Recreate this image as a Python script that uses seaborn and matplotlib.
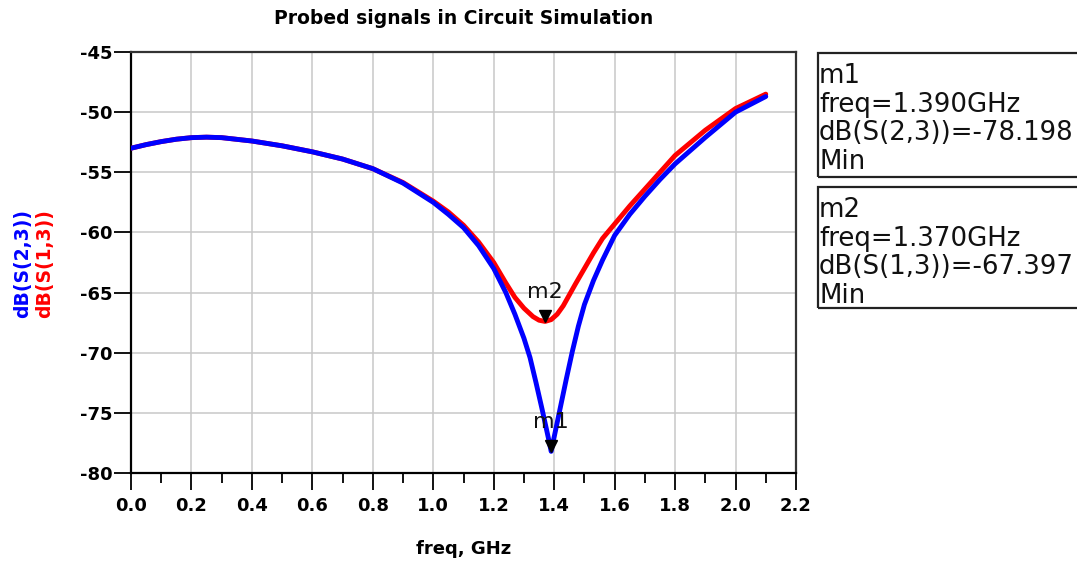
import numpy as np
import pandas as pd
import matplotlib
matplotlib.use("Agg")
import matplotlib.pyplot as plt
from matplotlib.patches import Rectangle
from matplotlib.ticker import MultipleLocator
from matplotlib.transforms import offset_copy
import seaborn as sns

# data
s23_freq = [0.0, 0.05, 0.1, 0.15, 0.2, 0.25, 0.3, 0.4, 0.5, 0.6, 0.7, 0.8, 0.9, 1.0, 1.05,
            1.1, 1.15, 1.2, 1.24, 1.27, 1.3, 1.32, 1.34, 1.36, 1.38, 1.39, 1.40, 1.42,
            1.44, 1.46, 1.48, 1.5, 1.53, 1.56, 1.6, 1.65, 1.7, 1.75, 1.8, 1.9, 2.0, 2.1]
s23_db = [-53.0, -52.7, -52.45, -52.25, -52.12, -52.08, -52.12, -52.4, -52.8, -53.3,
          -53.9, -54.7, -55.9, -57.5, -58.5, -59.6, -61.1, -63.0, -65.0, -66.8, -68.8,
          -70.4, -72.5, -74.7, -77.0, -78.2, -77.0, -74.6, -72.2, -69.9, -67.8, -66.0,
          -64.0, -62.3, -60.25, -58.5, -57.0, -55.6, -54.3, -52.1, -50.0, -48.7]
s13_freq = [0.0, 0.05, 0.1, 0.15, 0.2, 0.25, 0.3, 0.4, 0.5, 0.6, 0.7, 0.8, 0.9, 1.0, 1.05,
            1.1, 1.15, 1.2, 1.24, 1.27, 1.3, 1.33, 1.35, 1.37, 1.39, 1.41, 1.43, 1.45,
            1.47, 1.5, 1.53, 1.56, 1.6, 1.65, 1.7, 1.75, 1.8, 1.9, 2.0, 2.1]
s13_db = [-53.0, -52.7, -52.45, -52.25, -52.12, -52.08, -52.12, -52.4, -52.8, -53.3,
          -53.9, -54.7, -55.85, -57.4, -58.3, -59.4, -60.8, -62.5, -64.2, -65.4, -66.3,
          -67.0, -67.3, -67.4, -67.25, -66.8, -66.1, -65.2, -64.3, -63.0, -61.7, -60.5,
          -59.3, -57.8, -56.4, -55.0, -53.6, -51.5, -49.7, -48.5]

trace_names = ["dB(S(2,3))", "dB(S(1,3))"]
trace_colors = ["#0000ff", "#ff0000"]

marker_names = ["m1", "m2"]
marker_freq = [1.390, 1.370]
marker_db = [-78.198, -67.397]
marker_trace = ["dB(S(2,3))", "dB(S(1,3))"]

df = pd.concat([
    pd.DataFrame({"freq": s23_freq, "dB": s23_db, "trace": trace_names[0]}),
    pd.DataFrame({"freq": s13_freq, "dB": s13_db, "trace": trace_names[1]}),
])

sns.set_theme(style="white")
plt.rcParams["font.family"] = ["DejaVu Sans"]
plt.rcParams["axes.unicode_minus"] = False
plt.rcParams["text.color"] = "black"
plt.rcParams["xtick.color"] = "black"
plt.rcParams["ytick.color"] = "black"

W, H = 1077, 564
fig = plt.figure(figsize=(W / 100, H / 100), dpi=100)
ax = fig.add_axes([131 / W, 1 - 473 / H, (796 - 131) / W, (473 - 52) / H])

sns.lineplot(data=df, x="freq", y="dB", hue="trace",
             hue_order=[trace_names[1], trace_names[0]],
             palette=dict(zip(trace_names, trace_colors)),
             linewidth=3.5, legend=False, ax=ax, zorder=3)

# marker triangles sit just above the point
tri = offset_copy(ax.transData, fig=fig, y=4, units="points")
ax.plot(marker_freq, marker_db, "v", color="black", markersize=8, transform=tri, zorder=5)
for name, f, v in zip(marker_names, marker_freq, marker_db):
    ax.annotate(name, (f, v), xytext=(0, 21), textcoords="offset points",
                ha="center", va="center", fontsize=16, color="#111111", zorder=6)

ax.set_xlim(0, 2.2)
ax.set_ylim(-80, -45)
ax.xaxis.set_major_locator(MultipleLocator(0.2))
ax.xaxis.set_minor_locator(MultipleLocator(0.1))
ax.yaxis.set_major_locator(MultipleLocator(5))
ax.set_xticklabels([f"{t:.1f}" for t in ax.get_xticks()])
ax.grid(True, which="major", color="#c8c8c8", linewidth=1.1, zorder=0)
ax.set_axisbelow(True)

ax.tick_params(axis="x", which="major", direction="out", length=12, width=1.3,
               pad=5, labelsize=13)
ax.tick_params(axis="x", which="minor", direction="out", length=7, width=1.3)
ax.tick_params(axis="y", which="major", direction="out", length=12, width=1.3,
               pad=1, labelsize=13)
ax.tick_params(bottom=True, left=True, which="both")
for lab in ax.get_xticklabels() + ax.get_yticklabels():
    lab.set_fontweight("bold")

for side in ["left", "bottom"]:
    ax.spines[side].set_color("black")
    ax.spines[side].set_linewidth(1.6)
for side in ["top", "right"]:
    ax.spines[side].set_color("#333333")
    ax.spines[side].set_linewidth(1.6)

ax.set_xlabel("")
ax.set_ylabel("")
fig.text(464 / W, 1 - 549 / H, "freq, GHz", ha="center", va="center",
         fontsize=13, fontweight="bold")
fig.text(464 / W, 1 - 19 / H, "Probed signals in Circuit Simulation", ha="center",
         va="center", fontsize=13.5, fontweight="bold")

# stacked coloured y label
for i, (name, col) in enumerate(zip(trace_names, trace_colors)):
    fig.text((23 + i * 22) / W, 1 - 264 / H, name, rotation=90, ha="center",
             va="center", fontsize=13.5, fontweight="bold", color=col)

# marker readout boxes
box_tops = [53, 187]
box_bottoms = [177, 308]
for k, (name, f, v, tr) in enumerate(zip(marker_names, marker_freq, marker_db, marker_trace)):
    top, bot = box_tops[k], box_bottoms[k]
    fig.add_artist(Rectangle((818 / W, 1 - bot / H), 300 / W, (bot - top) / H,
                             transform=fig.transFigure, fill=False,
                             edgecolor="#222222", linewidth=1.6))
    lines = [name, f"freq={f:.3f}GHz", f"{tr}={v:.3f}", "Min"]
    for j, line in enumerate(lines):
        fig.text(819 / W, 1 - (top + 30 + j * 28.7) / H, line, ha="left",
                 va="baseline", fontsize=18.7, color="#111111")

fig.savefig("out.png", dpi=100)
